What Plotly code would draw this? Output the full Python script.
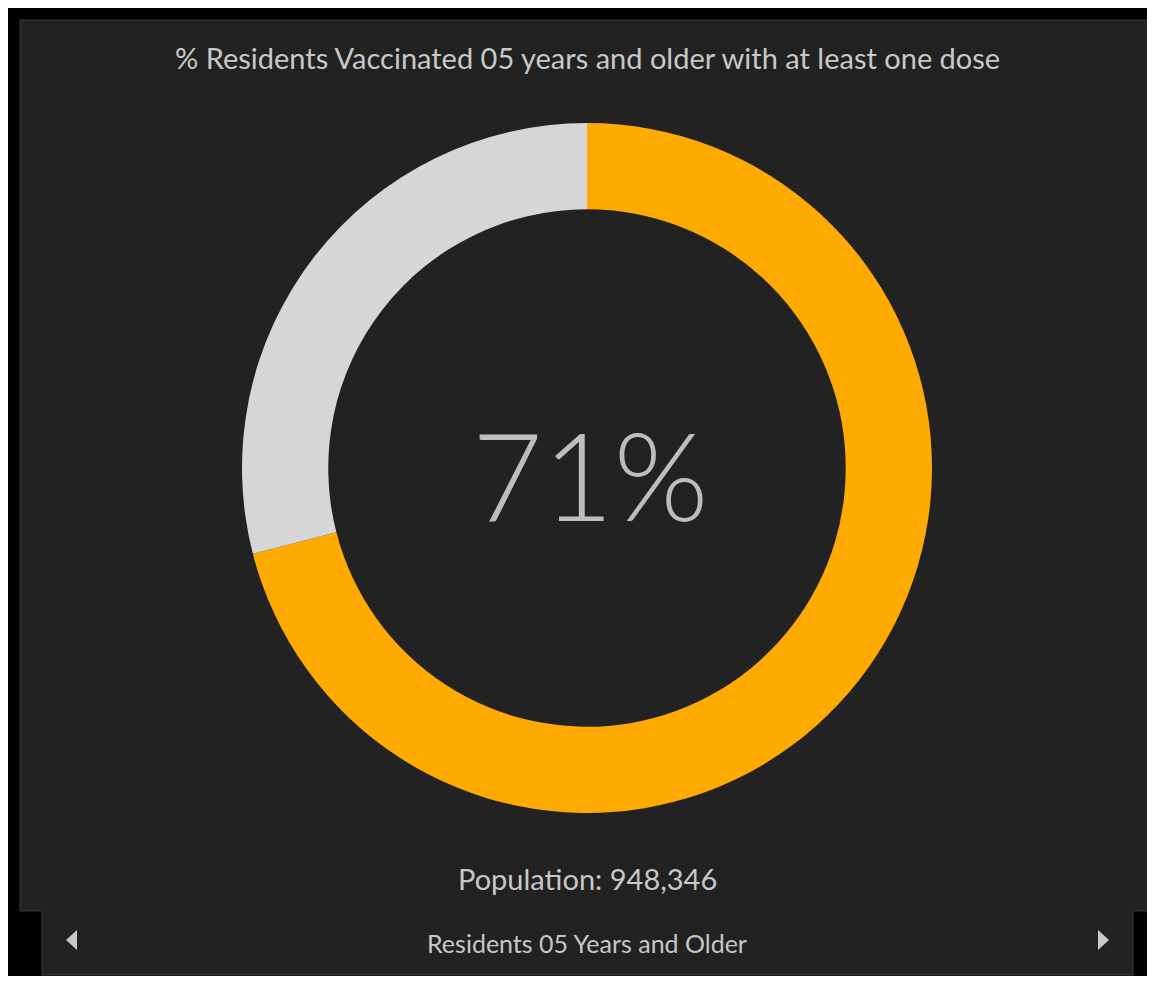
import plotly.graph_objects as go

# data
labels = ["Vaccinated (1+ dose)", "Not vaccinated"]
values = [71, 29]
colors = ["#FFAA00", "#D6D6D6"]
title_text = "% Residents Vaccinated 05 years and older with at least one dose"
center_text = "71%"
population_text = "Population: 948,346"
footer_text = "Residents 05 Years and Older"

# the page body adds an 8px margin, so the figure is smaller and shifted
OFF = 8
W, H = 1155 - OFF, 984 - 2 * OFF
PANEL_BG = "#222222"
EDGE = "#3a3a3a"
TXT = "#c8c8c8"


def px(x):
    return (x - OFF) / W


def py(y):
    return 1 - (y - OFF) / H


def path(points):
    return "M " + " L ".join(f"{px(x):.5f},{py(y):.5f}" for x, y in points) + " Z"


cx, cy, r = 587, 468, 345

fig = go.Figure(go.Pie(
    labels=labels, values=values,
    marker=dict(colors=colors, line=dict(width=0)),
    hole=0.75, sort=False, direction="clockwise", rotation=0,
    textinfo="none", hoverinfo="label+percent", showlegend=False,
    domain=dict(x=[px(cx - r), px(cx + r)], y=[py(cy + r), py(cy - r)]),
))

shapes = [
    # panel + footer strip outline
    dict(type="path", xref="paper", yref="paper", layer="below",
         path=path([(20, 20), (1153, 20), (1153, 911), (1133, 911), (1133, 975),
                    (42, 975), (42, 911), (20, 911)]),
         fillcolor=PANEL_BG, line=dict(color=EDGE, width=1)),
    # nav arrows
    dict(type="path", xref="paper", yref="paper",
         path=path([(77, 930), (77, 950), (66, 940)]),
         fillcolor=TXT, line_width=0),
    dict(type="path", xref="paper", yref="paper",
         path=path([(1098, 930), (1098, 950), (1109, 940)]),
         fillcolor=TXT, line_width=0),
]

annotations = [
    dict(text=title_text, x=px(587), y=py(57), font=dict(size=29, color=TXT)),
    dict(text=center_text, x=px(590), y=py(474),
         font=dict(size=122, color="#bdbdbd", weight=300)),
    dict(text=population_text, x=px(587), y=py(878), font=dict(size=29, color=TXT)),
    dict(text=footer_text, x=px(587), y=py(943), font=dict(size=25, color=TXT)),
]
for a in annotations:
    a.update(xref="paper", yref="paper", showarrow=False,
             xanchor="center", yanchor="middle")

fig.update_layout(
    width=W, height=H,
    margin=dict(l=0, r=0, t=0, b=0),
    paper_bgcolor="black",
    plot_bgcolor="black",
    font=dict(family="Lato, 'Noto Sans', sans-serif", color=TXT),
    shapes=shapes,
    annotations=annotations,
)

fig.write_html("out.html")
